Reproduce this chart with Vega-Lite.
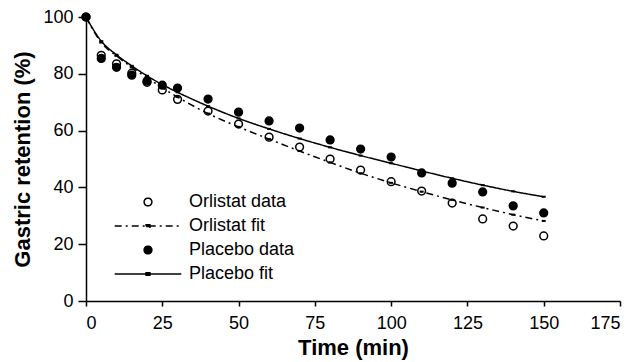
{
  "$schema": "https://vega.github.io/schema/vega-lite/v6.json",
  "autosize": "none",
  "width": 534,
  "height": 284,
  "padding": {"left": 86, "top": 17, "right": 18, "bottom": 61},
  "background": "white",
  "config": {
    "view": {"stroke": null},
    "font": "Liberation Sans",
    "axis": {
      "grid": false,
      "domainColor": "black",
      "domainWidth": 1.5,
      "tickColor": "black",
      "tickWidth": 1.5,
      "tickSize": 6,
      "labelColor": "black",
      "labelFontSize": 18,
      "labelFont": "Liberation Sans",
      "titleColor": "black",
      "titleFont": "Liberation Sans",
      "titleFontSize": 22,
      "titleFontWeight": "bold"
    },
    "legend": {
      "labelFont": "Liberation Sans",
      "labelFontSize": 18,
      "labelColor": "black",
      "symbolStrokeWidth": 1.5,
      "symbolSize": 60,
      "rowPadding": 6,
      "labelOffset": 32
    }
  },
  "data": {
    "values": [
      {"time": 0, "value": 100, "series": "Orlistat data"},
      {"time": 5, "value": 86.5, "series": "Orlistat data"},
      {"time": 10, "value": 83.5, "series": "Orlistat data"},
      {"time": 15, "value": 80.2, "series": "Orlistat data"},
      {"time": 20, "value": 77, "series": "Orlistat data"},
      {"time": 25, "value": 74.3, "series": "Orlistat data"},
      {"time": 30, "value": 71, "series": "Orlistat data"},
      {"time": 40, "value": 66.9, "series": "Orlistat data"},
      {"time": 50, "value": 62.3, "series": "Orlistat data"},
      {"time": 60, "value": 57.7, "series": "Orlistat data"},
      {"time": 70, "value": 54.2, "series": "Orlistat data"},
      {"time": 80, "value": 50, "series": "Orlistat data"},
      {"time": 90, "value": 46.1, "series": "Orlistat data"},
      {"time": 100, "value": 42, "series": "Orlistat data"},
      {"time": 110, "value": 38.7, "series": "Orlistat data"},
      {"time": 120, "value": 34.5, "series": "Orlistat data"},
      {"time": 130, "value": 28.9, "series": "Orlistat data"},
      {"time": 140, "value": 26.4, "series": "Orlistat data"},
      {"time": 150, "value": 22.9, "series": "Orlistat data"},
      {"time": 0, "value": 100, "series": "Placebo data"},
      {"time": 5, "value": 85.4, "series": "Placebo data"},
      {"time": 10, "value": 82.3, "series": "Placebo data"},
      {"time": 15, "value": 79.5, "series": "Placebo data"},
      {"time": 20, "value": 77.5, "series": "Placebo data"},
      {"time": 25, "value": 76, "series": "Placebo data"},
      {"time": 30, "value": 75, "series": "Placebo data"},
      {"time": 40, "value": 71.1, "series": "Placebo data"},
      {"time": 50, "value": 66.5, "series": "Placebo data"},
      {"time": 60, "value": 63.4, "series": "Placebo data"},
      {"time": 70, "value": 60.9, "series": "Placebo data"},
      {"time": 80, "value": 56.7, "series": "Placebo data"},
      {"time": 90, "value": 53.5, "series": "Placebo data"},
      {"time": 100, "value": 50.7, "series": "Placebo data"},
      {"time": 110, "value": 45.1, "series": "Placebo data"},
      {"time": 120, "value": 41.5, "series": "Placebo data"},
      {"time": 130, "value": 38.4, "series": "Placebo data"},
      {"time": 140, "value": 33.5, "series": "Placebo data"},
      {"time": 150, "value": 31, "series": "Placebo data"},
      {"time": 0, "value": 100, "series": "Orlistat fit"},
      {"time": 5, "value": 91, "series": "Orlistat fit"},
      {"time": 10, "value": 86.3, "series": "Orlistat fit"},
      {"time": 15, "value": 82.3, "series": "Orlistat fit"},
      {"time": 20, "value": 78.6, "series": "Orlistat fit"},
      {"time": 25, "value": 75.1, "series": "Orlistat fit"},
      {"time": 30, "value": 71.8, "series": "Orlistat fit"},
      {"time": 40, "value": 66, "series": "Orlistat fit"},
      {"time": 50, "value": 61.3, "series": "Orlistat fit"},
      {"time": 60, "value": 57, "series": "Orlistat fit"},
      {"time": 70, "value": 52.8, "series": "Orlistat fit"},
      {"time": 80, "value": 48.8, "series": "Orlistat fit"},
      {"time": 90, "value": 45, "series": "Orlistat fit"},
      {"time": 100, "value": 41.6, "series": "Orlistat fit"},
      {"time": 110, "value": 38.5, "series": "Orlistat fit"},
      {"time": 120, "value": 35.6, "series": "Orlistat fit"},
      {"time": 130, "value": 32.9, "series": "Orlistat fit"},
      {"time": 140, "value": 30.4, "series": "Orlistat fit"},
      {"time": 150, "value": 28.2, "series": "Orlistat fit"},
      {"time": 0, "value": 100, "series": "Placebo fit"},
      {"time": 5, "value": 91.5, "series": "Placebo fit"},
      {"time": 10, "value": 86.7, "series": "Placebo fit"},
      {"time": 15, "value": 82.8, "series": "Placebo fit"},
      {"time": 20, "value": 79.3, "series": "Placebo fit"},
      {"time": 25, "value": 76.2, "series": "Placebo fit"},
      {"time": 30, "value": 73.5, "series": "Placebo fit"},
      {"time": 40, "value": 68.6, "series": "Placebo fit"},
      {"time": 50, "value": 64.3, "series": "Placebo fit"},
      {"time": 60, "value": 60.6, "series": "Placebo fit"},
      {"time": 70, "value": 57.2, "series": "Placebo fit"},
      {"time": 80, "value": 54.1, "series": "Placebo fit"},
      {"time": 90, "value": 51.2, "series": "Placebo fit"},
      {"time": 100, "value": 48.5, "series": "Placebo fit"},
      {"time": 110, "value": 45.8, "series": "Placebo fit"},
      {"time": 120, "value": 43.2, "series": "Placebo fit"},
      {"time": 130, "value": 40.8, "series": "Placebo fit"},
      {"time": 140, "value": 38.6, "series": "Placebo fit"},
      {"time": 150, "value": 36.7, "series": "Placebo fit"}
    ]
  },
  "encoding": {
    "x": {
      "field": "time", "type": "quantitative", "title": "Time (min)",
      "scale": {"domain": [0, 175], "nice": false},
      "axis": {"values": [0, 25, 50, 75, 100, 125, 150, 175], "tickSize": 5, "labelPadding": 8, "titlePadding": 5}
    },
    "y": {
      "field": "value", "type": "quantitative", "title": "Gastric retention (%)",
      "scale": {"domain": [0, 100], "nice": false},
      "axis": {"values": [0, 20, 40, 60, 80, 100], "tickSize": 8, "labelPadding": 5, "titlePadding": 8}
    }
  },
  "layer": [
    {
      "transform": [{"filter": {"field": "series", "oneOf": ["Orlistat data", "Placebo data"]}}],
      "mark": {"type": "point", "filled": true, "size": 60, "strokeWidth": 1.5, "opacity": 1},
      "encoding": {
        "shape": {
          "field": "series", "type": "nominal",
          "scale": {
            "domain": ["Orlistat data", "Orlistat fit", "Placebo data", "Placebo fit"],
            "range": ["circle", "M-8.6,0H8.6M-0.5,-0.3H0.5V0.3H-0.5Z", "circle", "M-8.6,0H8.6M-0.5,-0.3H0.5V0.3H-0.5Z"]
          },
          "legend": {"title": null, "orient": "none", "legendX": 53, "legendY": 176}
        },
        "fill": {
          "field": "series", "type": "nominal",
          "scale": {
            "domain": ["Orlistat data", "Orlistat fit", "Placebo data", "Placebo fit"],
            "range": ["white", "black", "black", "black"]
          },
          "legend": {"title": null, "orient": "none", "legendX": 53, "legendY": 176}
        },
        "stroke": {
          "field": "series", "type": "nominal",
          "scale": {
            "domain": ["Orlistat data", "Orlistat fit", "Placebo data", "Placebo fit"],
            "range": ["black", "black", "black", "black"]
          },
          "legend": {"title": null, "orient": "none", "legendX": 53, "legendY": 176}
        }
      }
    },
    {
      "transform": [{"filter": {"field": "series", "oneOf": ["Orlistat fit", "Placebo fit"]}}],
      "mark": {"type": "line", "interpolate": "monotone", "strokeWidth": 1.5},
      "encoding": {
        "stroke": {
          "field": "series", "type": "nominal",
          "scale": {
            "domain": ["Orlistat data", "Orlistat fit", "Placebo data", "Placebo fit"],
            "range": ["black", "black", "black", "black"]
          },
          "legend": {"title": null, "orient": "none", "legendX": 53, "legendY": 176}
        },
        "strokeDash": {
          "field": "series", "type": "nominal",
          "scale": {
            "domain": ["Orlistat data", "Orlistat fit", "Placebo data", "Placebo fit"],
            "range": [[1, 0], [7, 4, 2, 4], [1, 0], [1, 0]]
          },
          "legend": {"title": null, "orient": "none", "legendX": 53, "legendY": 176}
        }
      }
    },
    {
      "transform": [{"filter": {"field": "series", "oneOf": ["Orlistat fit", "Placebo fit"]}}],
      "mark": {"type": "point", "filled": true, "shape": "M-1,-0.5H1V0.5H-1Z", "size": 16, "color": "black", "opacity": 1},
      "encoding": {
        "detail": {"field": "series", "type": "nominal"}
      }
    }
  ]
}
